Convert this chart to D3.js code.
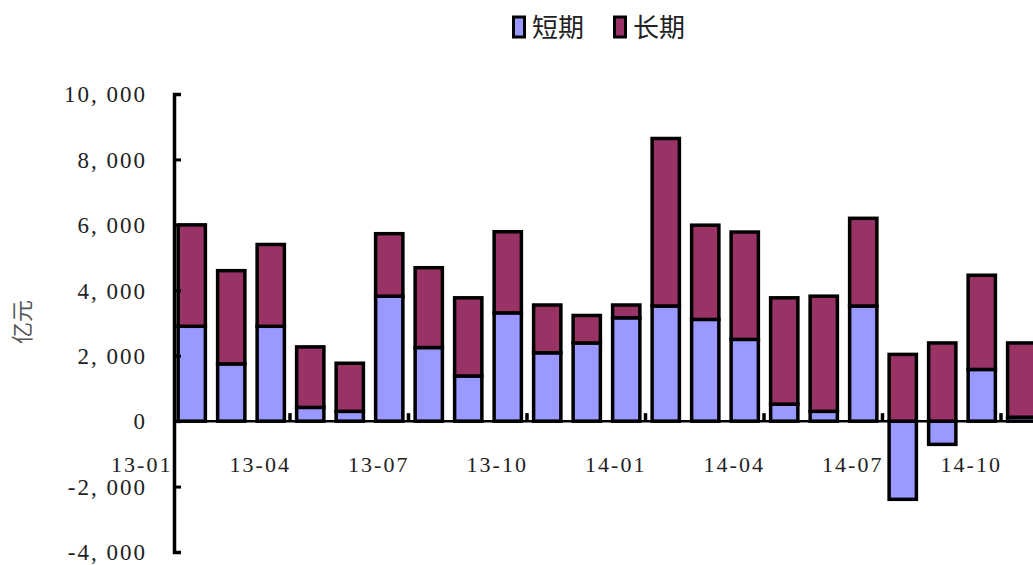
<!DOCTYPE html>
<html>
<head>
<meta charset="utf-8">
<script src="https://cdn.jsdelivr.net/npm/d3@7/dist/d3.min.js"></script>
<style>
  body { margin: 0; background: #fff; }
  svg { display: block; }
</style>
</head>
<body>
<svg id="chart"></svg>
<script>
// monthly data, 亿元
const months = ["13-01","13-02","13-03","13-04","13-05","13-06","13-07","13-08","13-09","13-10","13-11","13-12",
                "14-01","14-02","14-03","14-04","14-05","14-06","14-07","14-08","14-09","14-10"];
const shortTerm = [2900, 1750, 2900, 420, 300, 3820, 2250, 1380, 3310, 2090, 2390, 3160,
                   3520, 3110, 2500, 520, 300, 3520, -2390, -710, 1580, 120];
const longTerm = [3100, 2850, 2500, 1850, 1470, 1910, 2440, 2390, 2480, 1460, 840, 390,
                  5120, 2880, 3280, 3250, 3520, 2680, 2040, 2390, 2880, 2270];
const yTicks = [-4000, -2000, 0, 2000, 4000, 6000, 8000, 10000];
const xLabelIdx = [0, 3, 6, 9, 12, 15, 18, 21];
const seriesNames = ["短期", "长期"];
const colors = ["#9999ff", "#993366"];

const width = 1033, height = 565;
const svg = d3.select("#chart").attr("width", width).attr("height", height);

const x = d3.scaleBand().domain(months).range([172, 172 + months.length * 39.5]).paddingInner(0.31).paddingOuter(0.155);
const y = d3.scaleLinear().domain([-4000, 10000]).range([552, 94]);

const table = months.map((m, i) => ({ month: m, s: shortTerm[i], l: longTerm[i] }));
const stack = d3.stack().keys(["s", "l"]).offset(d3.stackOffsetDiverging);
const layers = stack(table);

// bars
svg.append("g")
  .selectAll("g")
  .data(layers)
  .enter()
  .append("g")
  .attr("fill", (d, i) => colors[i])
  .selectAll("rect")
  .data(d => d)
  .enter()
  .append("rect")
  .attr("x", d => x(d.data.month))
  .attr("width", x.bandwidth())
  .attr("y", d => y(d[1]))
  .attr("height", d => Math.max(0, y(d[0]) - y(d[1])))
  .attr("stroke", "#000")
  .attr("stroke-width", 3.5);

// zero line
svg.append("line")
  .attr("x1", 174).attr("x2", width)
  .attr("y1", y(0)).attr("y2", y(0))
  .attr("stroke", "#000").attr("stroke-width", 2.5);

// category tick marks (every 3 months, between bars)
const step = x.step();
svg.append("g")
  .selectAll("line")
  .data([3, 6, 9, 12, 15, 18, 21])
  .enter()
  .append("line")
  .attr("x1", i => x(months[i]) - step * 0.155 - 0.5)
  .attr("x2", i => x(months[i]) - step * 0.155 - 0.5)
  .attr("y1", y(0) - 8).attr("y2", y(0))
  .attr("stroke", "#000").attr("stroke-width", 3.5);

// y axis
const yAxis = d3.axisRight(y).tickValues(yTicks).tickSize(7).tickFormat("");
const ya = svg.append("g").attr("transform", "translate(174,0)").call(yAxis);
ya.select(".domain").attr("stroke", "#000").attr("stroke-width", 3.5);
ya.selectAll(".tick line").attr("stroke", "#000").attr("stroke-width", 3);

svg.append("g")
  .selectAll("text")
  .data(yTicks)
  .enter()
  .append("text")
  .attr("x", 147)
  .attr("y", d => y(d))
  .attr("dy", "0.36em")
  .attr("text-anchor", "end")
  .style("font-family", "'Liberation Serif', serif")
  .style("font-size", "23px")
  .style("letter-spacing", "2px")
  .style("fill", "#222")
  .text(d => d3.format(",")(d).replace("−", "-").replace(",", ", "));

// x labels
svg.append("g")
  .selectAll("text")
  .data(xLabelIdx)
  .enter()
  .append("text")
  .attr("x", i => x(months[i]) + x.bandwidth() / 2 - 50)
  .attr("y", 465)
  .attr("dy", "0.34em")
  .attr("text-anchor", "middle")
  .style("font-family", "'Liberation Serif', serif")
  .style("font-size", "22px")
  .style("letter-spacing", "2px")
  .style("fill", "#222")
  .text(i => months[i]);

// y title
svg.append("text")
  .attr("transform", "translate(22,322) rotate(-90)")
  .attr("text-anchor", "middle")
  .attr("dy", "0.36em")
  .style("font-family", "'Noto Sans CJK SC', sans-serif")
  .style("font-size", "22px")
  .style("fill", "#555")
  .text("亿元");

// legend
const legend = svg.append("g")
  .selectAll("g")
  .data(seriesNames)
  .enter()
  .append("g")
  .attr("transform", (d, i) => `translate(${512 + i * 101},0)`);
legend.append("rect")
  .attr("x", 1.5).attr("y", 17)
  .attr("width", 11).attr("height", 20)
  .attr("fill", (d, i) => colors[i])
  .attr("stroke", "#000").attr("stroke-width", 3);
legend.append("text")
  .attr("x", 20).attr("y", 28)
  .attr("dy", "0.36em")
  .style("font-family", "'Noto Sans CJK SC', sans-serif")
  .style("font-size", "26px")
  .style("fill", "#222")
  .text(d => d);
</script>
</body>
</html>
